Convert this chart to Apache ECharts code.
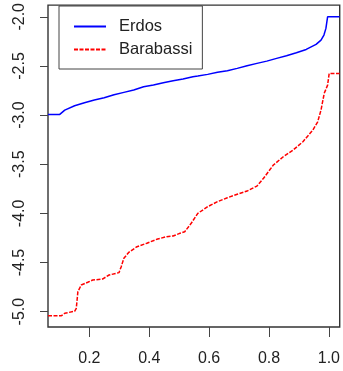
<!DOCTYPE html>
<html>
<head>
<meta charset="utf-8">
<script src="https://cdn.jsdelivr.net/npm/echarts@6/dist/echarts.min.js"></script>
<style>
html,body{margin:0;padding:0;background:#fff;}
#chart{width:343px;height:371px;}
</style>
</head>
<body>
<div id="chart"></div>
<script>
// Data
const seriesNames = ['Erdos', 'Barabassi'];
const xTicks = [0.2, 0.4, 0.6, 0.8, 1.0];
const yTicks = [-5.0, -4.5, -4.0, -3.5, -3.0, -2.5, -2.0];

const erdosX = [0.0617, 0.101, 0.1177, 0.1506, 0.1835, 0.2165, 0.2494, 0.2823, 0.3152, 0.3481, 0.3811, 0.414, 0.4469, 0.4798, 0.5128, 0.5457, 0.5621, 0.5951, 0.628, 0.6609, 0.6938, 0.7267, 0.7597, 0.7926, 0.8255, 0.8584, 0.8914, 0.9243, 0.9572, 0.9737, 0.9835, 0.9901, 0.9957, 1.036];
const erdosY = [-2.993, -2.993, -2.949, -2.905, -2.875, -2.847, -2.824, -2.793, -2.769, -2.745, -2.712, -2.695, -2.671, -2.651, -2.634, -2.610, -2.603, -2.586, -2.565, -2.549, -2.525, -2.498, -2.474, -2.451, -2.423, -2.397, -2.366, -2.332, -2.281, -2.237, -2.186, -2.118, -2.0, -2.0];

const barabassiX = [0.0617, 0.1068, 0.1177, 0.1506, 0.1562, 0.1615, 0.1727, 0.1944, 0.2109, 0.2438, 0.2658, 0.2988, 0.3063, 0.3152, 0.3317, 0.3590, 0.3919, 0.4249, 0.4578, 0.4798, 0.5019, 0.5183, 0.5401, 0.5621, 0.5951, 0.628, 0.6609, 0.6938, 0.7267, 0.7597, 0.7817, 0.8146, 0.8475, 0.8804, 0.9133, 0.9463, 0.9627, 0.9737, 0.9845, 0.9957, 1.001, 1.036];
const barabassiY = [-5.041, -5.041, -5.016, -4.996, -4.966, -4.797, -4.729, -4.701, -4.678, -4.668, -4.627, -4.603, -4.542, -4.457, -4.396, -4.339, -4.304, -4.264, -4.237, -4.230, -4.203, -4.187, -4.101, -4.0, -3.932, -3.881, -3.841, -3.806, -3.773, -3.722, -3.643, -3.508, -3.424, -3.356, -3.271, -3.152, -3.068, -2.949, -2.779, -2.695, -2.576, -2.576];

const zip = (xs, ys) => xs.map((x, i) => [x, ys[i]]);
const font = "'Liberation Sans', Arial, sans-serif";

const chart = echarts.init(document.getElementById('chart'), null, {renderer: 'canvas'});
chart.setOption({
  animation: false,
  backgroundColor: '#fff',
  grid: {
    left: 48, top: 5, width: 296, height: 322,
    show: true, borderColor: '#333', borderWidth: 1.4, backgroundColor: 'transparent'
  },
  legend: {
    orient: 'vertical',
    left: 59, top: 6,
    padding: [12, 10, 11, 14],
    itemGap: 6,
    itemWidth: 32, itemHeight: 15,
    borderColor: '#444', borderWidth: 1, backgroundColor: '#fff',
    borderRadius: 0,
    itemStyle: {color: 'transparent', borderColor: 'transparent', borderWidth: 0, opacity: 0},
    textStyle: {fontFamily: font, fontSize: 16.5, color: '#222', padding: [0, 0, 0, 8], lineHeight: 16},
    data: seriesNames
  },
  xAxis: {
    type: 'value', min: 0.0617, max: 1.0362,
    splitLine: {show: false},
    axisLine: {show: false},
    axisTick: {show: true, length: 10, customValues: xTicks, lineStyle: {color: '#444', width: 1}},
    axisLabel: {customValues: xTicks, margin: 24, fontFamily: font, fontSize: 16, color: '#222',
      formatter: v => v.toFixed(1)}
  },
  yAxis: {
    type: 'value', min: -5.156, max: -1.881,
    splitLine: {show: false},
    axisLine: {show: false},
    axisTick: {show: true, length: 8, customValues: yTicks, lineStyle: {color: '#444', width: 1}},
    axisLabel: {customValues: yTicks, margin: 20, rotate: 90, fontFamily: font, fontSize: 16, color: '#222',
      formatter: v => v.toFixed(1)}
  },
  series: [
    {
      name: seriesNames[0], type: 'line', data: zip(erdosX, erdosY),
      showSymbol: false, symbol: 'none', clip: true,
      lineStyle: {color: '#0000ff', width: 1.5}, itemStyle: {color: '#0000ff'}
    },
    {
      name: seriesNames[1], type: 'line', data: zip(barabassiX, barabassiY),
      showSymbol: false, symbol: 'none', clip: true,
      lineStyle: {color: '#ff0000', width: 1.5, type: [4, 1.5]}, itemStyle: {color: '#ff0000'}
    }
  ]
});
</script>
</body>
</html>
